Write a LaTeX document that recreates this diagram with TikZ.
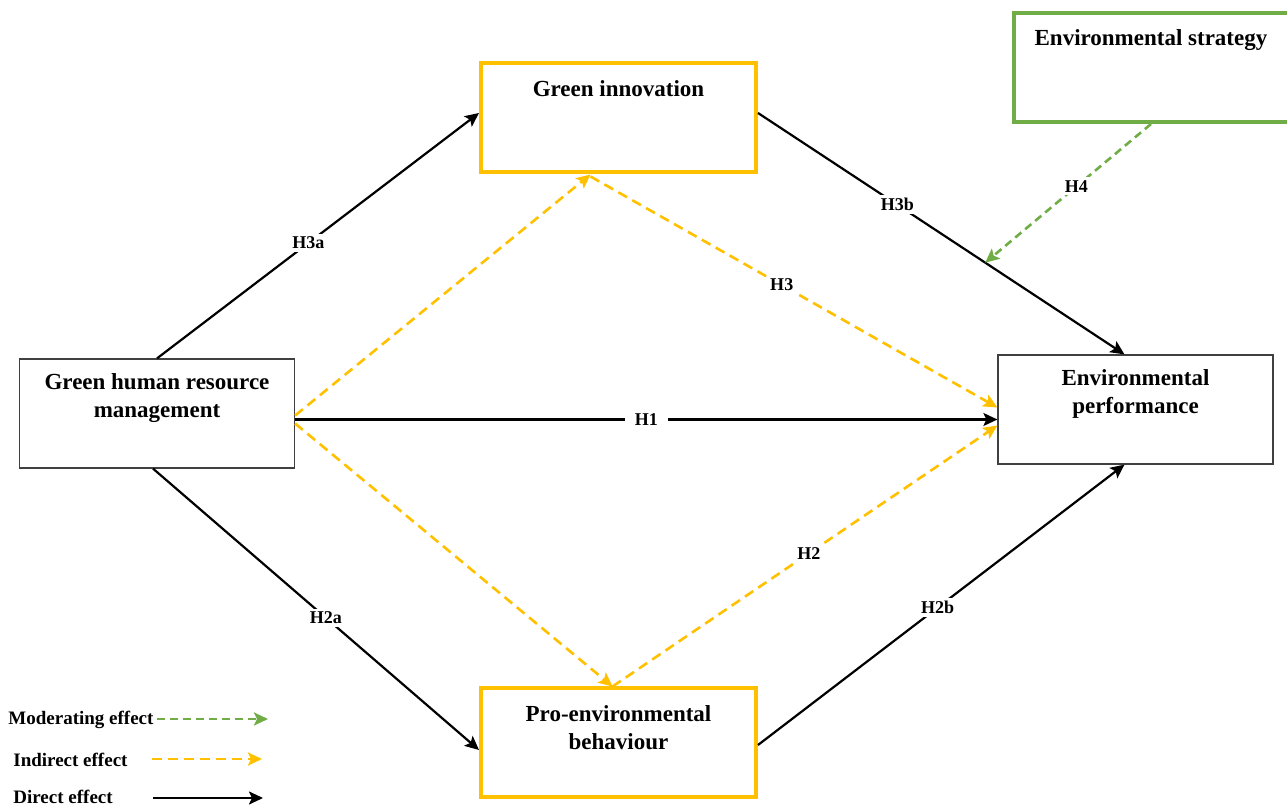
\documentclass[tikz,border=0pt]{standalone}
\usepackage{fontspec}
\setmainfont{Liberation Serif}
\usetikzlibrary{arrows.meta}
\definecolor{gold}{HTML}{FFC000}
\definecolor{leaf}{HTML}{70AD47}
\definecolor{frame}{HTML}{404040}

\begin{document}
\begin{tikzpicture}[x=0.5pt,y=-0.5pt,
  varbox/.style={draw=frame,line width=0.6pt,minimum width=137.5pt,minimum height=54.5pt,inner sep=0pt},
  keybox/.style={varbox,draw=gold,line width=2pt},
  modbox/.style={varbox,draw=leaf,line width=2pt},
  boxtext/.style={anchor=north,align=center,inner sep=0pt,yshift=-7pt,
    font=\fontsize{11.5}{14}\selectfont\bfseries},
  direct/.style={line width=1.1pt,-{Stealth[length=7pt,width=6.5pt,inset=1.5pt]}},
  indirect/.style={gold,line width=1.3pt,dash pattern=on 5pt off 3pt,-{Stealth[length=7pt,width=6.5pt,inset=1.5pt]}},
  moderate/.style={leaf,line width=1.3pt,dash pattern=on 4pt off 2.5pt,-{Stealth[length=7pt,width=6.5pt,inset=1.5pt]}},
  hyp/.style={fill=white,text=black,inner sep=1.5pt,font=\fontsize{9}{10}\selectfont\bfseries},
  legend/.style={anchor=west,inner sep=0pt,font=\fontsize{9.5}{11}\selectfont\bfseries}]
\useasboundingbox (0,0) rectangle (1287,807);

\node[varbox,label={[boxtext,yshift=-0.5pt]north:{Green human resource\\management}}] (ghrm) at (157,413.5) {};
\node[keybox,label={[boxtext,yshift=-2.5pt]north:{Green innovation}}] (gi) at (618.5,118) {};
\node[keybox,label={[boxtext,yshift=-2.5pt]north:{Pro-environmental\\behaviour}}] (peb) at (618.5,743) {};
\node[varbox,label={[boxtext,yshift=-0.5pt]north:{Environmental\\performance}}] (ep) at (1135.5,409.5) {};
\node[modbox,label={[boxtext,yshift=-2pt]north:{Environmental strategy}}] (es) at (1151,67.5) {};

\draw[direct] (ghrm.north) -- node[hyp,pos=0.47] {H3a} ([yshift=2.5pt]gi.west);
\draw[direct] ([xshift=-2pt]ghrm.south) -- node[hyp,pos=0.53] {H2a} ([yshift=-3.5pt]peb.west);
\draw[direct] ([yshift=-3pt]ghrm.east) -- node[hyp,inner xsep=5pt] {H1} ([yshift=-5pt]ep.west);
\draw[direct] ([yshift=2.5pt]gi.east) -- coordinate[pos=0.62] (mod) node[hyp,pos=0.38] {H3b} ([xshift=-5.5pt]ep.north);
\draw[direct] ([yshift=-1pt]peb.east) -- node[hyp,pos=0.49] {H2b} ([xshift=-5.5pt]ep.south);

\draw[indirect] ([yshift=-1pt]ghrm.east) -- ([xshift=-14pt]gi.south);
\draw[indirect] ([xshift=-14pt,yshift=-1pt]gi.south) -- node[hyp,pos=0.47] {H3} ([yshift=1pt]ep.west);
\draw[indirect] ([yshift=-5pt]ghrm.east) -- ([xshift=-3pt]peb.north);
\draw[indirect] ([xshift=-3pt]peb.north) -- node[hyp,pos=0.51] {H2} ([yshift=-8pt]ep.west);

\draw[moderate] (es.south) -- node[hyp,pos=0.45] {H4} (mod);

\node[legend] (lgmod) at (8,720) {Moderating effect};
\node[legend] (lgind) at (13,760) {Indirect effect};
\node[legend] (lgdir) at (13,797) {Direct effect};
\coordinate (mod0) at (157,719);
\coordinate (mod1) at (268,719);
\coordinate (ind0) at (152,759);
\coordinate (ind1) at (262,759);
\coordinate (dir0) at (153,798);
\coordinate (dir1) at (263,798);
\draw[moderate] (mod0) -- (mod1);
\draw[indirect] (ind0) -- (ind1);
\draw[direct] (dir0) -- (dir1);
\end{tikzpicture}
\end{document}
